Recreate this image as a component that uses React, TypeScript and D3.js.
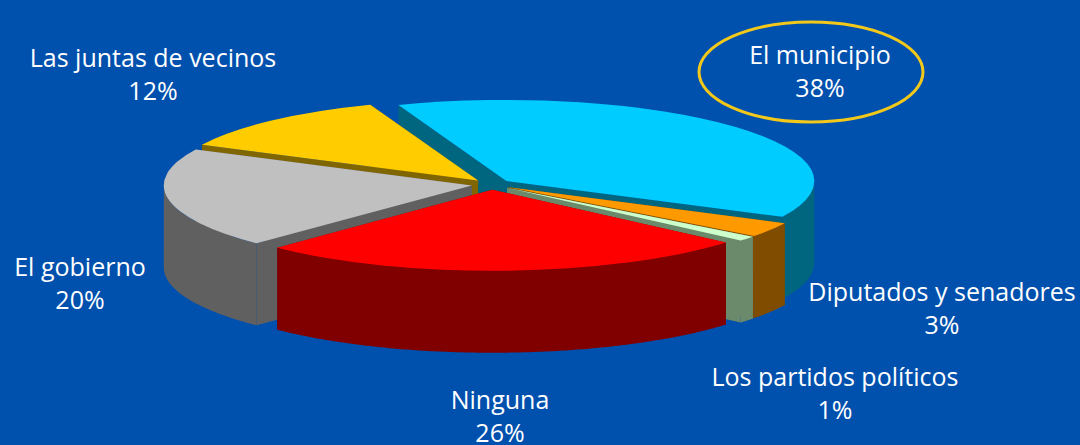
import React from 'react';
import * as d3 from 'd3';

const categories = ['El municipio', 'Diputados y senadores', 'Los partidos políticos', 'Ninguna', 'El gobierno', 'Las juntas de vecinos'];
const shares = [38, 3, 1, 26, 20, 12];

const topColors = ['#00CCFF', '#FF9900', '#CCFFCC', '#FF0000', '#C0C0C0', '#FFCC00'];
const sideColors = ['#006680', '#804D00', '#6B8A6B', '#800000', '#606060', '#806600'];

// label centre x and first baseline, same order as categories
const labelX = [820, 942, 835, 500, 80, 153];
const labelY = [64, 301, 386, 409, 276, 67];

// back to front, so nearer slices cover the ones behind
const paintOrder = [0, 5, 4, 1, 2, 3];

const width = 1080;
const height = 445;
const cx = 491.5;
const cy = 184.5;
const rx = 308;
const ry = 81;
const depth = 82;
const explode = 20;
const lineGap = 33;

const deg = Math.PI / 180;
const pie = d3.pie<number>().sort(null).startAngle(-20.5 * deg).endAngle(339.5 * deg);
const slices = pie(shares);

// projected position of polar point (r is in x units, y gets squashed)
const px = (a: number, r: number) => r * Math.sin(a);
const py = (a: number, r: number) => (-r * Math.cos(a) * ry) / rx;

const topArc = d3.arc<d3.PieArcDatum<number>>().innerRadius(0).outerRadius(rx);

const wallArea = d3
    .area<number>()
    .x(a => px(a, rx))
    .y0(a => py(a, rx))
    .y1(a => py(a, rx) + depth);

function radialFace(angle: number) {
    const gen = d3
        .area<number>()
        .x(r => px(angle, r))
        .y0(r => py(angle, r))
        .y1(r => py(angle, r) + depth);
    return gen([0, rx]) || '';
}

function wallFace(a0: number, a1: number) {
    const from = Math.max(a0, 90 * deg);
    const to = Math.min(a1, 270 * deg);
    if (to <= from) return '';
    return wallArea(d3.range(from, to, 0.01).concat(to)) || '';
}

export default function App() {
    return (
        <svg
            width={width}
            height={height}
            viewBox={`0 0 ${width} ${height}`}
            style={{ position: 'fixed', left: 0, top: 0, display: 'block' }}
            fontFamily="'Open Sans', sans-serif"
        >
            <rect width={width} height={height} fill="#0050AE" />
            <g transform={`translate(${cx},${cy})`}>
                {paintOrder.map(i => {
                    const s = slices[i];
                    const mid = (s.startAngle + s.endAngle) / 2;
                    const dx = px(mid, explode);
                    const dy = py(mid, explode);
                    return (
                        <g key={categories[i]} transform={`translate(${dx},${dy})`}>
                            <path d={radialFace(s.startAngle)} fill={sideColors[i]} />
                            <path d={radialFace(s.endAngle)} fill={sideColors[i]} />
                            <path d={wallFace(s.startAngle, s.endAngle)} fill={sideColors[i]} />
                            <path
                                d={topArc(s) || ''}
                                transform={`scale(1,${ry / rx})`}
                                fill={topColors[i]}
                            />
                        </g>
                    );
                })}
            </g>
            <ellipse cx={811} cy={72} rx={112} ry={50} fill="none" stroke="#F2C81A" strokeWidth={3} />
            {categories.map((name, i) => (
                <text key={name} textAnchor="middle" fill="#fff" fontSize={25}>
                    <tspan x={labelX[i]} y={labelY[i]}>{name}</tspan>
                    <tspan x={labelX[i]} y={labelY[i] + lineGap}>{shares[i]}%</tspan>
                </text>
            ))}
        </svg>
    );
}
